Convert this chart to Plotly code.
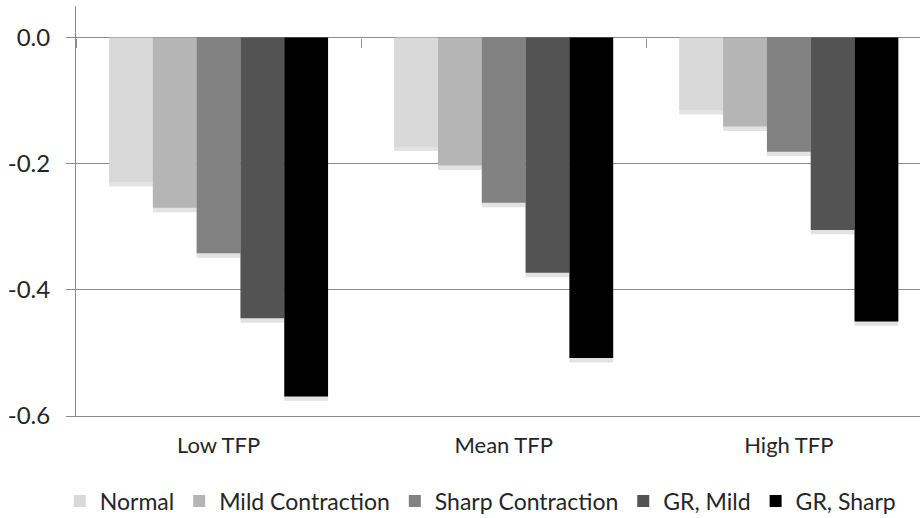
import plotly.graph_objects as go

categories = ["Low TFP", "Mean TFP", "High TFP"]
series_names = ["Normal", "Mild Contraction", "Sharp Contraction", "GR, Mild", "GR, Sharp"]
normal = [-0.229, -0.173, -0.115]
mild_contraction = [-0.270, -0.203, -0.141]
sharp_contraction = [-0.342, -0.262, -0.181]
gr_mild = [-0.445, -0.373, -0.305]
gr_sharp = [-0.569, -0.508, -0.450]
y_ticks = [0.0, -0.2, -0.4, -0.6]

series_values = [normal, mild_contraction, sharp_contraction, gr_mild, gr_sharp]
colors = ["#d9d9d9", "#b5b5b5", "#828282", "#535353", "#000000"]

FONT = "Lato, Roboto, Arial, sans-serif"
TEXT = "#262626"
GRID = "#8c8c8c"
Y_MIN, Y_MAX = -0.6, 0.05
SHADOW_DEPTH = 0.007

fig = go.Figure()
for i, (name, vals, col) in enumerate(zip(series_names, series_values, colors)):
    # soft drop shadow under each bar, sharing the bar's slot
    fig.add_trace(go.Bar(x=categories, y=[v - SHADOW_DEPTH for v in vals], offsetgroup=str(i),
                         marker=dict(color="rgba(0,0,0,0.11)", line=dict(width=0)),
                         showlegend=False, hoverinfo="skip"))
    fig.add_trace(go.Bar(x=categories, y=vals, name=name, offsetgroup=str(i),
                         marker=dict(color=col, line=dict(width=0))))

# invisible trace so the secondary category axis (ticks along the zero line) is drawn
fig.add_trace(go.Scatter(x=categories, y=[0, 0, 0], xaxis="x2", mode="markers",
                         marker=dict(opacity=0), showlegend=False, hoverinfo="skip"))

zero_pos = (0 - Y_MIN) / (Y_MAX - Y_MIN)

fig.update_layout(
    width=920, height=518,
    margin=dict(l=76, r=0, t=6, b=102, autoexpand=False),
    paper_bgcolor="white", plot_bgcolor="white",
    barmode="group", bargap=0.232, bargroupgap=0,
    font=dict(family=FONT, size=22, color=TEXT),
    xaxis=dict(type="category", range=[-0.5, 2.46], showgrid=False,
               showline=True, linecolor=GRID, linewidth=1,
               ticks="", tickfont=dict(size=22, color=TEXT), ticklabelstandoff=10),
    xaxis2=dict(type="category", matches="x", overlaying="x", anchor="free", position=zero_pos,
                side="bottom", showgrid=False, showline=False, showticklabels=False,
                ticks="outside", tickson="boundaries", ticklen=9, tickcolor=GRID, tickwidth=1),
    yaxis=dict(range=[Y_MIN, Y_MAX], tickvals=y_ticks, ticktext=[f"{v:.1f}" for v in y_ticks],
               showgrid=True, gridcolor=GRID, gridwidth=1, zeroline=False,
               showline=True, linecolor=GRID, linewidth=1,
               ticks="outside", ticklen=9, tickcolor=GRID, tickwidth=1,
               tickfont=dict(size=24, color=TEXT), ticklabelstandoff=11),
    legend=dict(orientation="h", x=0.479, xanchor="center", xref="paper",
                y=-0.155, yanchor="top", yref="paper",
                font=dict(size=23, color=TEXT), itemwidth=30, traceorder="normal"),
    showlegend=True,
)

fig.write_html("out.html")
